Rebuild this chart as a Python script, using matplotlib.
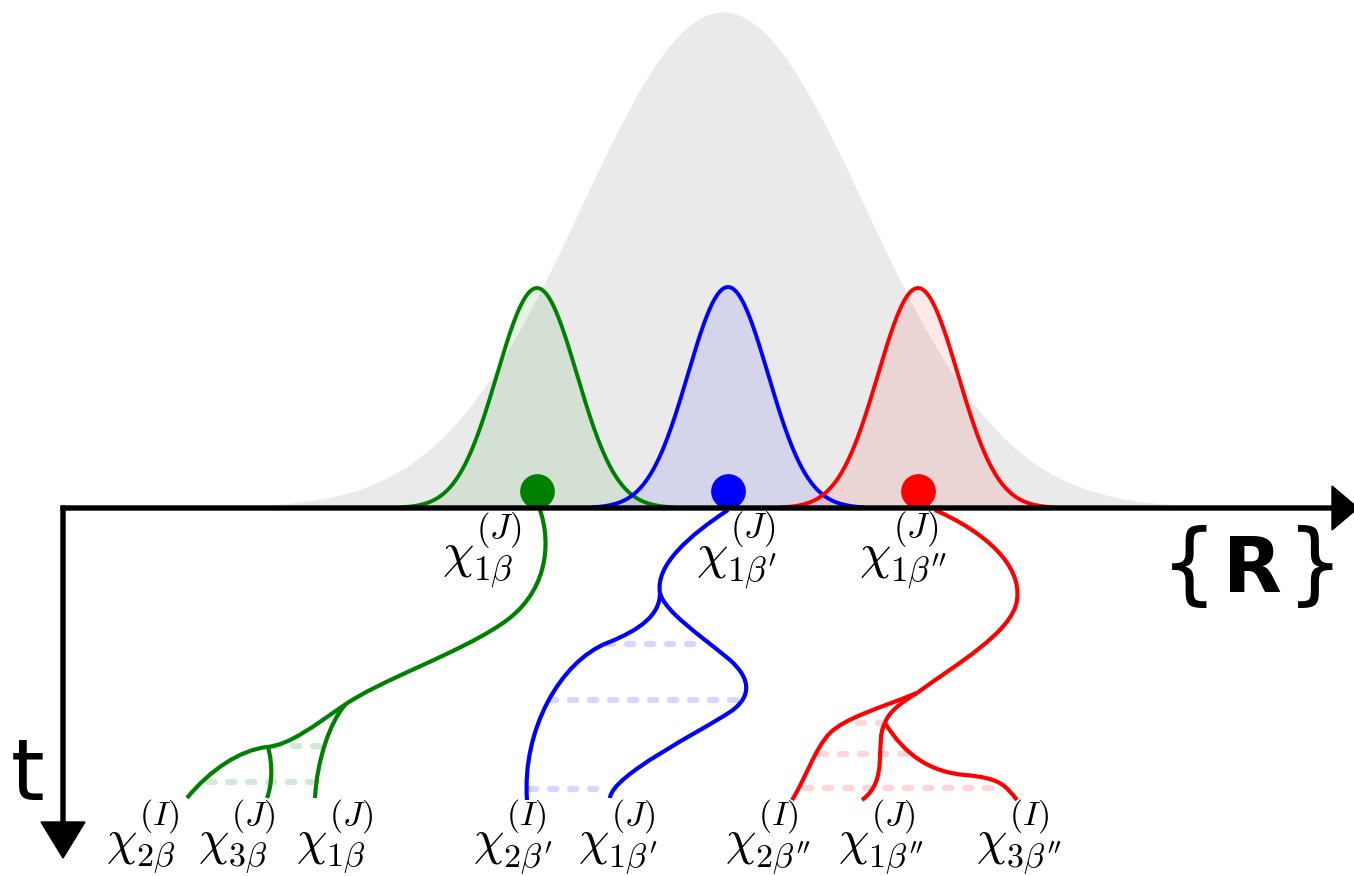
import numpy as np
import matplotlib.pyplot as plt
from matplotlib.path import Path
from matplotlib.patches import PathPatch

plt.rcParams['mathtext.fontset'] = 'cm'

# coordinates are in picture pixels, y grows downwards
axis_y = 508
axis_x = 63
x_arrow_tip = 1358
t_arrow_tip = 858

# big grey envelope
env_center = 723
env_height = 496
env_sigma = 142

# the three small gaussians
centers = [537, 728, 918]
heights = [220, 221, 220]
sigmas = [40, 40, 40]
colors = ['green', 'blue', 'red']
light = ['#d5e8d5', '#d6d6ff', '#ffd6d6']
top_labels = [r'$\chi^{(J)}_{1\beta}$', r"$\chi^{(J)}_{1\beta'}$", r"$\chi^{(J)}_{1\beta''}$"]
top_label_x = [482, 737, 903]
top_label_y = 551

# trajectories, cubic bezier control points: start, (c1, c2, end) ...
green_paths = [
    [(540, 510), (552, 545), (547, 595), (500, 625),
     (455, 655), (380, 680), (343, 706),
     (315, 725), (290, 745), (267, 747),
     (240, 750), (210, 770), (187, 798)],
    [(268, 747), (273, 765), (272, 785), (267, 798)],
    [(345, 705), (330, 722), (317, 760), (315, 798)],
]
blue_paths = [
    [(728, 510), (690, 535), (655, 565), (660, 593)],
    [(660, 593), (660, 615), (640, 630), (607, 643),
     (560, 662), (522, 730), (527, 800)],
    [(660, 593), (665, 612), (700, 635), (730, 660),
     (748, 676), (755, 695), (730, 712),
     (700, 732), (612, 775), (610, 798)],
]
red_paths = [
    [(935, 510), (985, 532), (1022, 565), (1017, 600),
     (1013, 632), (955, 665), (917, 693)],
    [(917, 693), (880, 708), (845, 718), (830, 733),
     (815, 748), (805, 780), (792, 800)],
    [(917, 693), (900, 703), (888, 713), (885, 723)],
    [(885, 723), (874, 742), (890, 780), (862, 800)],
    [(885, 723), (905, 755), (930, 772), (965, 775),
     (1000, 778), (1005, 785), (1017, 800)],
]

# dashed links: (y, x_start, x_end)
green_dashes = [(746, 273, 320), (782, 208, 313)]
blue_dashes = [(644, 607, 703), (700, 550, 740), (789, 530, 603)]
red_dashes = [(723, 858, 883), (754, 820, 908), (788, 805, 997)]

bottom_labels = [r'$\chi^{(I)}_{2\beta}$', r'$\chi^{(J)}_{3\beta}$', r'$\chi^{(J)}_{1\beta}$',
                 r"$\chi^{(I)}_{2\beta'}$", r"$\chi^{(J)}_{1\beta'}$",
                 r"$\chi^{(I)}_{2\beta''}$", r"$\chi^{(J)}_{1\beta''}$", r"$\chi^{(I)}_{3\beta''}$"]
bottom_label_x = [143, 237, 335, 513, 618, 768, 881, 1019]
bottom_label_y = 837


def bezier(ax, pts, color):
    codes = [Path.MOVETO] + [Path.CURVE4] * (len(pts) - 1)
    ax.add_patch(PathPatch(Path(pts, codes), fill=False, edgecolor=color,
                           lw=3, capstyle='butt', zorder=4))


fig = plt.figure(figsize=(13.54, 8.76), dpi=100)
ax = fig.add_axes([0, 0, 1, 1])
ax.set_xlim(0, 1354)
ax.set_ylim(876, 0)
ax.axis('off')

xe = np.linspace(250, 1200, 600)
ax.fill_between(xe, axis_y, axis_y - env_height * np.exp(-0.5 * ((xe - env_center) / env_sigma) ** 2),
                color='#eaeaea', lw=0, zorder=1)

for c, h, s, col in zip(centers, heights, sigmas, colors):
    xg = np.linspace(c - 135, c + 135, 300)
    yg = axis_y - h * np.exp(-0.5 * ((xg - c) / s) ** 2)
    ax.fill_between(xg, axis_y, yg, color=col, alpha=0.09, lw=0, zorder=2)
    ax.plot(xg, yg, color=col, lw=2.8, zorder=3)
    ax.plot(c, axis_y - 17, 'o', color=col, ms=24, zorder=5)

for lab, x in zip(top_labels, top_label_x):
    ax.text(x, top_label_y, lab, fontsize=36, ha='center', va='center', zorder=6)

for paths, col in [(green_paths, 'green'), (blue_paths, 'blue'), (red_paths, 'red')]:
    for p in paths:
        bezier(ax, p, col)

for dashes, col in [(green_dashes, light[0]), (blue_dashes, light[1]), (red_dashes, light[2])]:
    for y, x0, x1 in dashes:
        ax.plot([x0, x1], [y, y], color=col, lw=4.5, ls=(0, (1.0, 2.2)),
                dash_capstyle='round', zorder=3)

for lab, x in zip(bottom_labels, bottom_label_x):
    ax.text(x, bottom_label_y, lab, fontsize=35, ha='center', va='center')

# axes arrows
ax.arrow(axis_x - 2, axis_y, x_arrow_tip - axis_x + 2, 0, width=4, head_width=44,
         head_length=26, length_includes_head=True, color='black', zorder=7)
ax.arrow(axis_x, axis_y - 2, 0, t_arrow_tip - axis_y + 2, width=4, head_width=44,
         head_length=36, length_includes_head=True, color='black', zorder=7)

ax.text(1189, 568, '{', fontsize=64, ha='center', va='center')
ax.text(1252, 571, 'R', fontsize=55, fontweight='bold', ha='center', va='center')
ax.text(1315, 568, '}', fontsize=64, ha='center', va='center')
ax.text(28, 777, 't', fontsize=62, ha='center', va='center')

plt.savefig('out.png', dpi=100)
